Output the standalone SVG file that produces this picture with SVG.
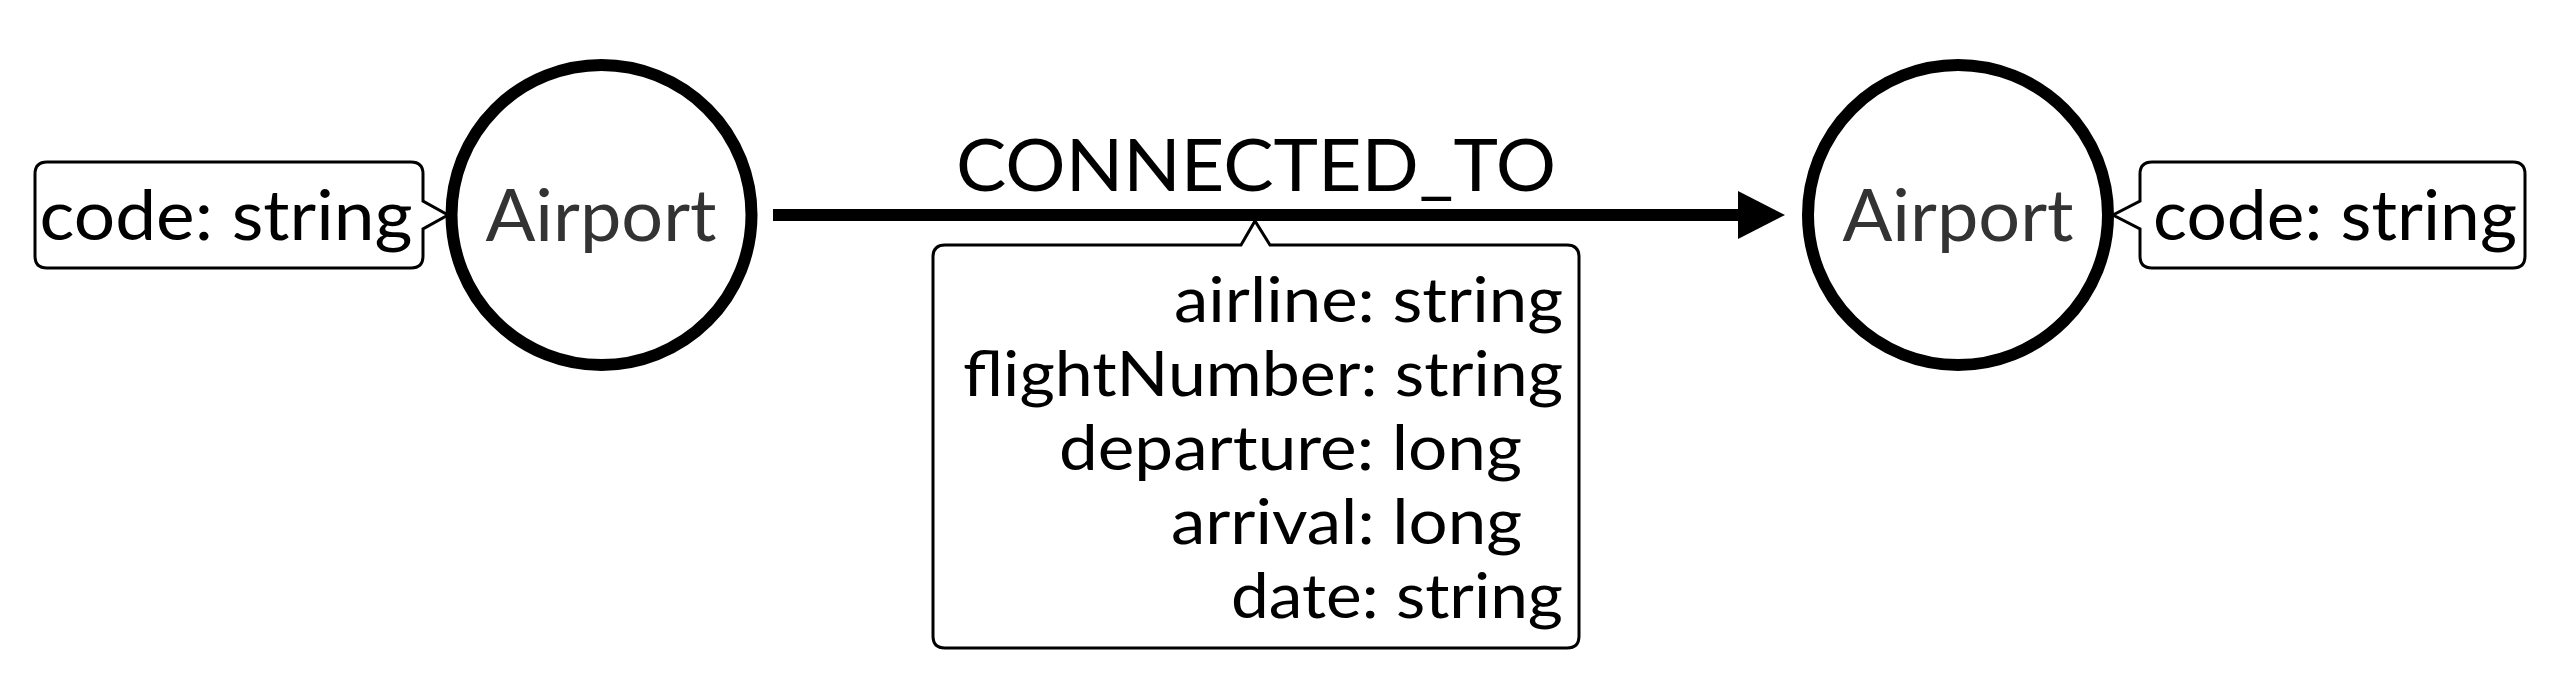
<svg xmlns="http://www.w3.org/2000/svg" width="2560" height="682" viewBox="0 0 2560 682">
  <style>
    .node circle { fill: #ffffff; stroke: #000000; stroke-width: 12; }
    .node-label { font-family: Lato, "Open Sans", "Liberation Sans", sans-serif; font-size: 72px; fill: #333333; text-anchor: middle; }
    .callout { fill: #ffffff; stroke: #000000; stroke-width: 3; stroke-linejoin: miter; }
    .prop { font-family: Lato, "Open Sans", "Liberation Sans", sans-serif; font-size: 70px; fill: #000000; }
    .eprop { font-family: Lato, "Open Sans", "Liberation Sans", sans-serif; font-size: 61px; fill: #000000; text-anchor: end; }
    .edge-label { font-family: Lato, "Open Sans", "Liberation Sans", sans-serif; font-size: 72px; fill: #000000; text-anchor: middle; }
    .edge-line { stroke: #000000; stroke-width: 12; fill: none; }
  </style>
  <rect x="0" y="0" width="2560" height="682" fill="#ffffff"/>

  <g id="connectors">
    <line class="edge-line" x1="773" y1="215" x2="1740" y2="215"/>
    <polygon points="1738,191 1785,215 1738,239" fill="#000000"/>
    <text class="edge-label" x="1256" y="191" textLength="600" lengthAdjust="spacingAndGlyphs">CONNECTED_TO</text>
  </g>

  <g id="edge-properties">
    <path class="callout" d="M 945 245 L 1241 245 L 1255 221 L 1270 245 L 1567 245 Q 1579 245 1579 257 L 1579 636 Q 1579 648 1567 648 L 945 648 Q 933 648 933 636 L 933 257 Q 933 245 945 245 Z"/>
    <text class="eprop" x="1563" y="322" textLength="389" lengthAdjust="spacingAndGlyphs">airline: string</text>
    <text class="eprop" x="1563" y="396" textLength="600" lengthAdjust="spacingAndGlyphs">flightNumber: string</text>
    <text class="eprop" x="1522" y="470" textLength="463" lengthAdjust="spacingAndGlyphs">departure: long</text>
    <text class="eprop" x="1522" y="544" textLength="351" lengthAdjust="spacingAndGlyphs">arrival: long</text>
    <text class="eprop" x="1563" y="618" textLength="332" lengthAdjust="spacingAndGlyphs">date: string</text>
  </g>

  <g id="airport-left">
    <path class="callout" d="M 47 162 L 411 162 Q 423 162 423 174 L 423 201 L 448 215 L 423 229 L 423 256 Q 423 268 411 268 L 47 268 Q 35 268 35 256 L 35 174 Q 35 162 47 162 Z"/>
    <text class="prop" x="226" y="240" text-anchor="middle" textLength="373" lengthAdjust="spacingAndGlyphs">code: string</text>
    <g class="node">
      <circle cx="601.5" cy="215" r="150"/>
    </g>
    <text class="node-label" x="601" y="241" textLength="231" lengthAdjust="spacingAndGlyphs">Airport</text>
  </g>

  <g id="airport-right">
    <path class="callout" d="M 2152 162 L 2513 162 Q 2525 162 2525 174 L 2525 256 Q 2525 268 2513 268 L 2152 268 Q 2140 268 2140 256 L 2140 229 L 2113 215 L 2140 201 L 2140 174 Q 2140 162 2152 162 Z"/>
    <text class="prop" x="2335" y="240" text-anchor="middle" textLength="364" lengthAdjust="spacingAndGlyphs">code: string</text>
    <g class="node">
      <circle cx="1958" cy="215" r="150"/>
    </g>
    <text class="node-label" x="1958" y="241" textLength="231" lengthAdjust="spacingAndGlyphs">Airport</text>
  </g>
</svg>
